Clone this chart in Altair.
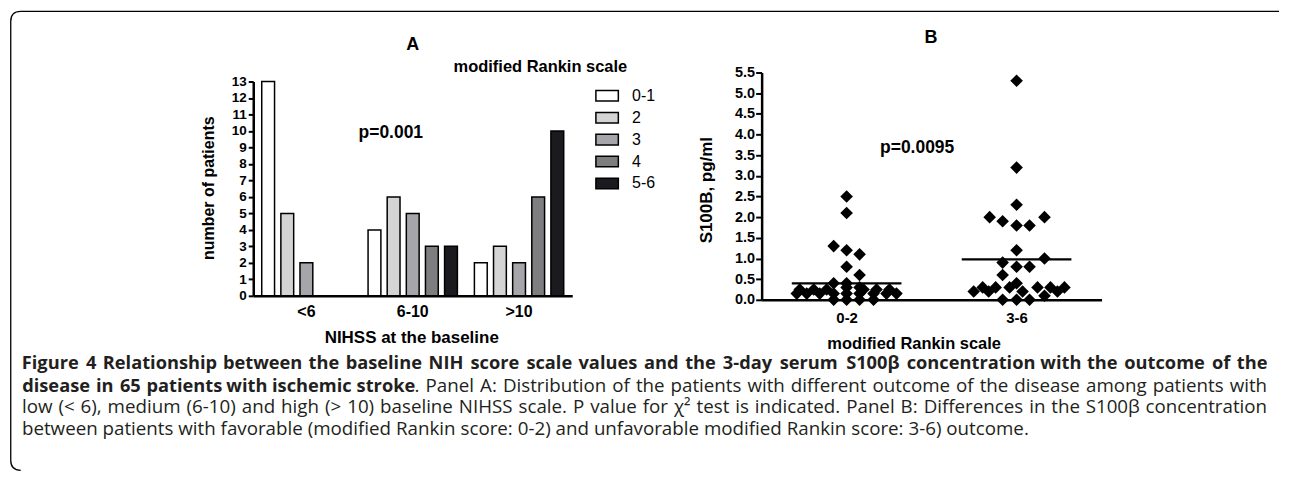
import json
import altair as alt
import pandas as pd

# ---------------- data ----------------
nihss_groups = ["<6", "6-10", ">10"]
rankin_cats = ["0-1", "2", "3", "4", "5-6"]
counts_lt6 = [13, 5, 2, 0, 0]
counts_6_10 = [4, 6, 5, 3, 3]
counts_gt10 = [2, 3, 2, 6, 10]
bar_colors = ["#ffffff", "#d4d4d4", "#a6a6aa", "#7e7e80", "#1b1b1f"]
y_ticks_a = list(range(0, 14))

groups_b = ["0-2", "3-6"]
s100b_02 = [2.5, 2.1, 1.3, 1.2, 1.1, 0.8, 0.6, 0.4, 0.4, 0.3, 0.3,
            0.25, 0.25, 0.25, 0.25, 0.25, 0.25,
            0.15, 0.15, 0.15, 0.15, 0.15, 0.15, 0.15, 0.15, 0.15,
            0.0, 0.0, 0.0, 0.0]
jitter_02 = [0, 0, -13, 0, 13, 0, 13, -13, 0, 0, 13,
             -47, -33, -20, 17, 30, 43,
             -50, -40, -27, -13, 0, 13, 27, 40, 50,
             -13, 0, 13, 27]
s100b_36 = [5.3, 3.2, 2.3, 2.0, 1.9, 1.8, 1.8, 2.0, 1.2, 1.0, 0.9, 0.8, 0.8, 0.6, 0.4,
            0.3, 0.3, 0.3, 0.3, 0.3, 0.3,
            0.2, 0.2, 0.2, 0.2, 0.1, 0.0, 0.0, 0.0]
jitter_36 = [0, 0, 0, -27, -14, 0, 13, 28, 0, 28, -14, 0, 13, -14, 0,
             -34, -21, -7, 21, 34, 48,
             -43, -28, 6, 41, 28, -14, 0, 13]
mean_lines = [0.40, 0.98]
y_ticks_b = [i * 0.5 for i in range(12)]

# caption lines: (text, bold) runs; justified except the last line
caption_1 = [("Figure 4 Relationship between the baseline NIH score scale values and the 3-day serum "
              "S100\u03b2 concentration with the outcome of the", True)]
caption_2 = [("disease in 65 patients with ischemic stroke", True),
             (". Panel A: Distribution of the patients with different outcome of the disease among "
              "patients with", False)]
caption_3 = [("low (< 6), medium (6-10) and high (> 10) baseline NIHSS scale. P value for \u03c7\u00b2 test "
              "is indicated. Panel B: Differences in the S100\u03b2 concentration", False)]
caption_4 = [("between patients with favorable (modified Rankin score: 0-2) and unfavorable modified "
              "Rankin score: 3-6) outcome.", False)]

# ---------------- layout constants ----------------
W_A, H_A = 320, 224
W_B, H_B = 341, 228
OX_A, OY = 252, 70          # page position of panel A plot origin
OX_B = 762                  # page position of panel B plot origin
STEP_B = W_B / 2.0          # px per category in panel B
FONT = "Liberation Sans"
CAP_FONT = "Open Sans"
CAP_SIZE = 18.8
CAP_SIZE_BOLD = 18.3
CAP_COLOR = "#231f20"
CAP_LEFT, CAP_RIGHT = 20, 1269

# approximate Open Sans advance widths (em) used only to lay out justified words
_W = {" ": 0.26, "a": 0.556, "b": 0.613, "c": 0.48, "d": 0.613, "e": 0.561, "f": 0.336,
      "g": 0.546, "h": 0.614, "i": 0.252, "j": 0.252, "k": 0.529, "l": 0.252, "m": 0.93,
      "n": 0.614, "o": 0.6, "p": 0.613, "q": 0.613, "r": 0.409, "s": 0.477, "t": 0.353,
      "u": 0.614, "v": 0.501, "w": 0.778, "x": 0.524, "y": 0.502, "z": 0.463,
      "A": 0.633, "B": 0.648, "C": 0.631, "D": 0.729, "E": 0.556, "F": 0.516, "G": 0.728,
      "H": 0.738, "I": 0.279, "J": 0.267, "K": 0.614, "L": 0.519, "M": 0.903, "N": 0.754,
      "O": 0.779, "P": 0.602, "Q": 0.779, "R": 0.618, "S": 0.549, "T": 0.553, "U": 0.729,
      "V": 0.583, "W": 0.924, "X": 0.577, "Y": 0.556, "Z": 0.572,
      ".": 0.266, ",": 0.25, ":": 0.266, "(": 0.296, ")": 0.296, "-": 0.322, "<": 0.572,
      ">": 0.572, "=": 0.572, "\u03b2": 0.6, "\u03c7": 0.54, "\u00b2": 0.36}


def word_width(word, bold):
    size = CAP_SIZE_BOLD if bold else CAP_SIZE
    w = sum(_W.get(ch, 0.572) for ch in word) * size
    return w * (1.07 if bold else 1.0)


def layout_line(runs, justify):
    tokens = []  # (word, bold, glued_to_previous)
    for ri, (text, bold) in enumerate(runs):
        for wi, w in enumerate(text.split(" ")):
            if w == "":
                continue
            glued = (wi == 0 and ri > 0 and not text.startswith(" "))
            tokens.append((w, bold, glued))
    widths = [word_width(w, b) for w, b, _ in tokens]
    n_gaps = sum(1 for i, t in enumerate(tokens) if i > 0 and not t[2])
    gap = _W[" "] * CAP_SIZE
    if justify and n_gaps:
        gap = (CAP_RIGHT - CAP_LEFT - sum(widths)) / n_gaps
    rows, x = [], CAP_LEFT
    for i, ((w, b, glued), wd) in enumerate(zip(tokens, widths)):
        if i > 0 and not glued:
            x += gap
        rows.append({"word": w, "bold": b, "xc": x + wd / 2 - OX_A})
        x += wd
    return rows


rows_a = []
for g, vals in zip(nihss_groups, [counts_lt6, counts_6_10, counts_gt10]):
    for r, v in zip(rankin_cats, vals):
        rows_a.append({"nihss": g, "rankin": r, "count": v})
df_a = pd.DataFrame(rows_a)

rows_b = []
for gi, (vals, jit) in enumerate([(s100b_02, jitter_02), (s100b_36, jitter_36)]):
    for v, j in zip(vals, jit):
        rows_b.append({"gi": gi, "group": groups_b[gi], "value": v, "jitter": j})
df_b = pd.DataFrame(rows_b)
df_m = pd.DataFrame({"gi": [0, 1], "mean": mean_lines})


def label(text, x, y, size, weight="bold", font=FONT, align="center",
          baseline="middle", angle=None, color="black"):
    kw = dict(align=align, baseline=baseline, fontSize=size, fontWeight=weight,
              font=font, color=color)
    if angle is not None:
        kw["angle"] = angle
    return alt.Chart(alt.Data(values=[{}])).mark_text(**kw).encode(
        x=alt.value(x), y=alt.value(y), text=alt.value(text))


def caption_layers(runs, baseline_y, justify):
    rows = layout_line(runs, justify)
    out = []
    for bold in (True, False):
        sub = [r for r in rows if r["bold"] == bold]
        if not sub:
            continue
        out.append(alt.Chart(alt.Data(values=sub)).mark_text(
            align="center", baseline="alphabetic", font=CAP_FONT,
            fontSize=CAP_SIZE_BOLD if bold else CAP_SIZE,
            fontWeight="bold" if bold else "normal", color=CAP_COLOR
        ).encode(x=alt.X("xc:Q", scale=None), y=alt.value(baseline_y - OY),
                 text="word:N"))
    return out


# ---------------- panel A ----------------
bars = alt.Chart(df_a).transform_filter("datum.count > 0").mark_bar(
    stroke="black", strokeWidth=1.5
).encode(
    x=alt.X("nihss:N", sort=nihss_groups,
            scale=alt.Scale(domain=nihss_groups, paddingInner=0.16, paddingOuter=0.08),
            axis=alt.Axis(title=None, ticks=False, labelAngle=0, labelFontSize=16,
                          labelFontWeight="bold", labelPadding=8, domainWidth=2.5)),
    xOffset=alt.XOffset("rankin:N", sort=rankin_cats,
                        scale=alt.Scale(domain=rankin_cats, paddingInner=0.33, paddingOuter=0)),
    y=alt.Y("count:Q", scale=alt.Scale(domain=[0, 13], range=[H_A, 9], nice=False),
            axis=alt.Axis(values=y_ticks_a, title=None, tickSize=5, tickWidth=2,
                          labelPadding=2, labelFontSize=13.5, labelFontWeight="bold",
                          labelOverlap=False, domainWidth=2.5, grid=False)),
    fill=alt.Fill("rankin:N", sort=rankin_cats,
                  scale=alt.Scale(domain=rankin_cats, range=bar_colors),
                  legend=alt.Legend(orient="none", legendX=595 - OX_A, legendY=93.3 - 12 - OY,
                                    title=None, direction="vertical",
                                    symbolType="M-1,-0.47H1V0.47H-1Z", symbolSize=506,
                                    symbolStrokeColor="black", symbolStrokeWidth=1.5,
                                    symbolOpacity=1, labelFont=FONT, labelFontSize=16,
                                    labelColor="black", labelOffset=13, rowPadding=1,
                                    padding=0)),
)

L, T = 8.75 - OX_A, 8.75 - OY
R, B = 1281.0 - OX_A, 469.0 - OY
border_path = (f"M{L+10},{B} Q{L},{B} {L},{B-10} L{L},{T+10} "
               f"Q{L},{T} {L+10},{T} L{R},{T}")
border = alt.Chart(alt.Data(values=[{}])).mark_point(
    shape=border_path, size=4, filled=False, stroke="black", color="black",
    strokeWidth=1.3, opacity=1
).encode(x=alt.value(0), y=alt.value(0))

texts_a = [
    label("A", 412 - OX_A, 42 - OY, 18),
    label("modified Rankin scale", 453 - OX_A, 64 - OY, 16.5, align="left"),
    label("p=0.001", 390 - OX_A, 131 - OY, 17.5),
    label("number of patients", 208 - OX_A, 186 - OY, 16, angle=270),
    label("NIHSS at the baseline", 411 - OX_A, 336 - OY, 17),
]
texts_a += caption_layers(caption_1, 367, True)
texts_a += caption_layers(caption_2, 390, True)
texts_a += caption_layers(caption_3, 412, True)
texts_a += caption_layers(caption_4, 434, False)

panel_a = alt.layer(bars, border, *texts_a).properties(width=W_A, height=H_A)

# ---------------- panel B ----------------
x_scale_b = alt.Scale(domain=[-0.5, 1.5], nice=False, zero=False)
x_axis_b = alt.Axis(values=[0, 1], labelExpr=f"{json.dumps(groups_b)}[datum.value]",
                    ticks=False, grid=False, title=None, labelFontSize=15,
                    labelFontWeight="bold", labelPadding=11, domainWidth=2.5)
y_scale_b = alt.Scale(domain=[0, 5.5], nice=False)
y_axis_b = alt.Axis(values=y_ticks_b, format=".1f", title=None, tickSize=6,
                    tickWidth=2, labelPadding=1, labelFontSize=14.5,
                    labelFontWeight="bold", labelOverlap=False, labelBound=False,
                    domainWidth=2.5, grid=False)

points = alt.Chart(df_b).transform_calculate(
    xpos=f"datum.gi + datum.jitter / {STEP_B}"
).mark_point(shape="diamond", filled=True, size=160, color="black", opacity=1).encode(
    x=alt.X("xpos:Q", scale=x_scale_b, axis=x_axis_b),
    y=alt.Y("value:Q", scale=y_scale_b, axis=y_axis_b))

half = 55 / STEP_B
rules = alt.Chart(df_m).transform_calculate(
    x1=f"datum.gi - {half}", x2=f"datum.gi + {half}"
).mark_rule(color="black", strokeWidth=2.2).encode(
    x=alt.X("x1:Q", scale=x_scale_b, axis=x_axis_b), x2="x2:Q",
    y=alt.Y("mean:Q", scale=y_scale_b, axis=y_axis_b))

texts_b = [
    label("B", 932 - OX_B, 35 - OY, 18),
    label("p=0.0095", 918 - OX_B, 146 - OY, 17.5),
    label("S100B, pg/ml", 707.5 - OX_B, 188 - OY, 17, angle=270),
    label("modified Rankin scale", 915 - OX_B, 347 - OY, 16.5, baseline="alphabetic"),
]

panel_b = alt.layer(points, rules, *texts_b).properties(width=W_B, height=H_B)

chart = alt.hconcat(panel_a, panel_b, spacing=OX_B - OX_A - W_A, bounds="flush").properties(
    padding=0, background="white"
).configure_view(stroke=None).configure_axis(
    domainColor="black", tickColor="black", labelColor="black", labelFont=FONT, grid=False
)

chart.save("out.html", embed_options={"renderer": "svg", "actions": False})
